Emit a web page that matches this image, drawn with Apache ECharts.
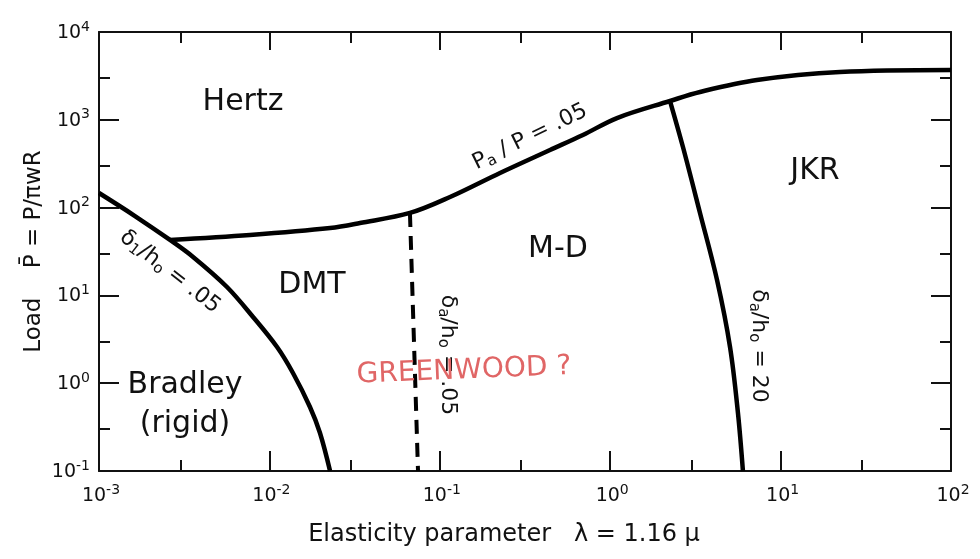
<!DOCTYPE html>
<html>
<head>
<meta charset="utf-8">
<script src="https://cdn.jsdelivr.net/npm/echarts@6/dist/echarts.min.js"></script>
<style>
html, body { margin: 0; padding: 0; background: #fff; }
#chart { width: 980px; height: 559px; }
</style>
</head>
<body>
<div id="chart"></div>
<script>
// 边界曲线 (λ, P̄)
var hertzX = [0.00261, 0.00769, 0.0227, 0.034, 0.0668, 0.1148, 0.2256, 0.4434, 0.6918, 1.096, 2.244, 3.365, 7.26, 22.3, 100];
var hertzY = [42.8, 48.8, 58.6, 66.8, 86.9, 132, 248, 453, 671, 1047, 1637, 2075, 2838, 3499, 3690];
var bradleyX = [0.001, 0.001626, 0.00261, 0.003565, 0.005637, 0.008017, 0.01109, 0.01375, 0.0173, 0.01981, 0.0227];
var bradleyY = [146.6, 80.2, 42.8, 27.4, 12.47, 5.68, 2.58, 1.306, 0.536, 0.271, 0.1];
var dmtX = [0.0668, 0.0745];
var dmtY = [86.9, 0.1];
var jkrX = [2.244, 2.673, 3.365, 4.236, 5.05, 5.62, 6.01];
var jkrY = [1637, 490, 86.9, 14.96, 2.58, 0.458, 0.1];
// 刻度
var xTicks = [0.001, 0.01, 0.1, 1, 10, 100];
var yTicks = [0.1, 1, 10, 100, 1000, 10000];
var xMinor = [0.003, 0.03, 0.3, 3, 30];
var yMinor = [0.3, 3, 30, 300, 3000];

var FONT = 'DejaVu Sans';
var INK = '#111';

function fnt(size) { return size + 'px "' + FONT + '"'; }
function pairs(xs, ys) {
  return xs.map(function (x, i) { return [x, ys[i]]; });
}
function pow10(v) {
  return '{base|10}{sup|' + Math.round(Math.log10(v)) + '}';
}
var tickRich = {
  base: { font: fnt(19), fontSize: 19, fontFamily: FONT, fill: INK },
  sup: { font: fnt(14), fontSize: 14, fontFamily: FONT, fill: INK, padding: [0, 0, 12, 0] }
};

function baseAxis(type, pos, extra) {
  var ax = {
    type: 'log',
    logBase: 10,
    position: pos,
    gridIndex: 0,
    splitLine: { show: false },
    axisLine: { show: true, onZero: false, lineStyle: { color: INK, width: 2 } },
    axisTick: { show: true, inside: true, length: 20, lineStyle: { color: INK, width: 2 } },
    axisLabel: { show: false }
  };
  if (type === 'x') { ax.min = 0.001; ax.max = 100; } else { ax.min = 0.1; ax.max = 10000; }
  return Object.assign(ax, extra || {});
}
function minorAxis(type, pos, vals) {
  return baseAxis(type, pos, {
    axisLine: { show: false },
    axisTick: { show: true, inside: true, length: 11, customValues: vals, lineStyle: { color: INK, width: 2 } }
  });
}

// 图中文字
var rr = {
  main: { font: fnt(22), fontSize: 22, fontFamily: FONT, fill: INK },
  low: { font: fnt(15), fontSize: 15, fontFamily: FONT, fill: INK, padding: [10, 0, 0, 0] }
};
function label(x, y, text, size, rot, rich, align) {
  var st = {
    text: text,
    fill: INK,
    font: fnt(size),
    align: align || 'center', verticalAlign: 'middle',
    textAlign: align || 'center', textVerticalAlign: 'middle'
  };
  if (rich) st.rich = rich;
  return { type: 'text', x: x, y: y, rotation: (rot || 0) * Math.PI / 180, style: st, z: 100 };
}

var lineBase = { type: 'line', smooth: 0.35, symbol: 'none', silent: true, xAxisIndex: 0, yAxisIndex: 0 };

var chart = echarts.init(document.getElementById('chart'));
chart.setOption({
  animation: false,
  backgroundColor: '#fff',
  grid: { left: 99, right: 29, top: 32, bottom: 88, containLabel: false },
  xAxis: [
    baseAxis('x', 'bottom', {
      name: 'Elasticity parameter   λ = 1.16 μ',
      nameLocation: 'middle',
      nameGap: 52,
      nameMoveOverlap: false,
      nameTextStyle: { fontSize: 24, fontFamily: FONT, color: INK, padding: [0, 42, 0, 0] }
    }),
    baseAxis('x', 'top', { axisTick: { show: true, inside: true, length: 18, lineStyle: { color: INK, width: 2 } } }),
    minorAxis('x', 'bottom', xMinor),
    minorAxis('x', 'top', xMinor)
  ],
  yAxis: [
    baseAxis('y', 'left', {
      name: 'Load    P\u0304 = P/πwR',
      nameLocation: 'middle',
      nameGap: 53,
      nameMoveOverlap: false,
      nameTextStyle: { fontSize: 23, fontFamily: FONT, color: INK }
    }),
    baseAxis('y', 'right'),
    minorAxis('y', 'left', yMinor),
    minorAxis('y', 'right', yMinor)
  ],
  series: [
    Object.assign({ name: 'Pa/P', data: pairs(hertzX, hertzY), lineStyle: { color: '#000', width: 4.5 } }, lineBase),
    Object.assign({ name: 'δ1/h0', data: pairs(bradleyX, bradleyY), lineStyle: { color: '#000', width: 4.5 } }, lineBase),
    Object.assign({ name: 'δa/h0 .05', data: pairs(dmtX, dmtY), lineStyle: { color: '#000', width: 4, type: [14, 9] } }, lineBase, { smooth: false }),
    Object.assign({ name: 'δa/h0 20', data: pairs(jkrX, jkrY), lineStyle: { color: '#000', width: 4.5 } }, lineBase)
  ]
});

// 刻度标签 (10ⁿ)，位置取自坐标轴
var tickLabels = [];
xTicks.forEach(function (v) {
  var p = chart.convertToPixel({ seriesIndex: 0 }, [v, 0.1]);
  tickLabels.push(label(p[0] + 2, p[1] + 25, pow10(v), 19, 0, tickRich));
});
yTicks.forEach(function (v) {
  var p = chart.convertToPixel({ seriesIndex: 0 }, [0.001, v]);
  tickLabels.push(label(p[0] - 9, p[1] + 1, pow10(v), 19, 0, tickRich, 'right'));
});

chart.setOption({
  graphic: [
    label(243, 102, 'Hertz', 30),
    label(312, 285, 'DMT', 30),
    label(558, 249, 'M-D', 30),
    label(815, 171, 'JKR', 30),
    label(185, 385, 'Bradley', 30),
    label(185, 424, '(rigid)', 30),
    label(170, 272, '{main|δ}{low|1}{main|/h}{low|o}{main| = .05}', 22, -38, rr),
    label(530, 137, '{main|P}{low|a}{main| / P = .05}', 22, 26, rr),
    label(448, 355, '{main|δ}{low|a}{main|/h}{low|o}{main| = .05}', 22, -90, rr),
    label(759, 346, '{main|δ}{low|a}{main|/h}{low|o}{main| = 20}', 22, -90, rr),
    {
      type: 'text', x: 464, y: 371, rotation: 0.04, z: 110,
      style: { text: 'GREENWOOD ?', fill: '#e06666', font: fnt(28),
        align: 'center', verticalAlign: 'middle', textAlign: 'center', textVerticalAlign: 'middle' }
    }
  ].concat(tickLabels)
});
</script>
</body>
</html>
